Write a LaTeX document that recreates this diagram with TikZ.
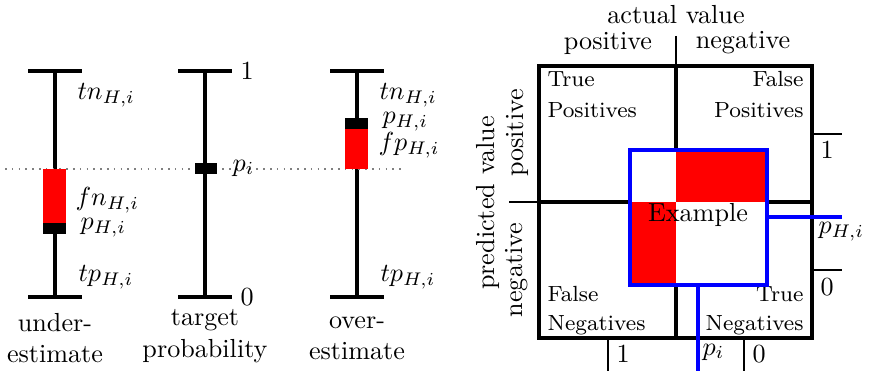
\documentclass[tikz,border=0pt]{standalone}
\begin{document}
\begin{tikzpicture}[x=0.3826pt,y=-0.3826pt,
  bar/.style={line width=1.2pt},
  thin/.style={line width=0.6pt},
  lbl/.style={anchor=west,inner sep=0pt},
  cell/.style={inner sep=0pt,font=\fontsize{8.4}{10}\selectfont},
  blue line/.style={draw=blue,line width=1.6pt}]
\useasboundingbox (0,0) rectangle (869,371);
% ---------- error bars ----------
\foreach \n/\x in {1/55,2/205,3/357}{
  \coordinate (t\n) at (\x,71);
  \coordinate (b\n) at (\x,297);
  \draw[bar] (t\n) -- (b\n);
  \draw[bar] ([xshift=-27*0.3826pt]t\n) -- ([xshift=27*0.3826pt]t\n);
  \draw[bar] ([xshift=-27*0.3826pt]b\n) -- ([xshift=27*0.3826pt]b\n);
}
\draw[dotted,gray,thin] (5,169) -- (403,169);
% bar 1
\fill[red] (43,169) rectangle (66,223);
\fill[black] (43,223) rectangle (66,234);
% bar 2
\fill[black] (195,163) rectangle (217,174);
% bar 3
\fill[red] (345,124) rectangle (368,169);
\fill[black] (345,118) rectangle (368,129);
% labels
\node[lbl] (l1a) at (77,95) {$tn_{H,i}$};
\node[lbl] (l1b) at (75,200) {$fn_{H,i}$};
\node[lbl] (l1c) at (80,228) {$p_{H,i}$};
\node[lbl] (l1d) at (78,277) {$tp_{H,i}$};
\node[lbl] (l2a) at (240,71) {$1$};
\node[lbl] (l2b) at (232,168) {$p_i$};
\node[lbl] (l2c) at (240,297) {$0$};
\node[lbl] (l3a) at (379,95) {$tn_{H,i}$};
\node[lbl] (l3b) at (382,122) {$p_{H,i}$};
\node[lbl] (l3c) at (378,145) {$fp_{H,i}$};
\node[lbl] (l3d) at (380,277) {$tp_{H,i}$};
\node[align=center,inner sep=0pt] (c1) at (55,338) {under-\\estimate};
\node[align=center,inner sep=0pt] (c2) at (205,336) {target\\probability};
\node[align=center,inner sep=0pt] (c3) at (357,338) {over-\\estimate};
% ---------- confusion matrix ----------
\draw[bar] (539,66) rectangle (812,338);
\draw[bar] (676,66) -- (676,338);
\draw[bar] (539,202) -- (812,202);
\draw[thin] (676,36) -- (676,66);
\draw[thin] (509,202) -- (539,202);
\node (av) at (676,15) {actual value};
\node (ap) at (608,43) {positive};
\node (an) at (743,43) {negative};
\node[rotate=90] (pv) at (488,203) {predicted value};
\node[rotate=90] (pp) at (517,133) {positive};
\node[rotate=90] (pn) at (517,270) {negative};
\node[cell,anchor=west] (tp1) at (547,79) {True};
\node[cell,anchor=west] (tp2) at (547,110) {Positives};
\node[cell,anchor=east] (fp1) at (804,79) {False};
\node[cell,anchor=east] (fp2) at (804,110) {Positives};
\node[cell,anchor=west] (fn1) at (547,294) {False};
\node[cell,anchor=west] (fn2) at (547,325) {Negatives};
\node[cell,anchor=east] (tn1) at (804,294) {True};
\node[cell,anchor=east] (tn2) at (804,325) {Negatives};
% example square
\fill[white] (630,150) rectangle (767,285);
\fill[red] (676,150) rectangle (767,202);
\fill[red] (630,202) rectangle (676,285);
\draw[blue line] (630,150) rectangle (767,285);
\node (ex) at (698,215) {Example};
\coordinate (exr) at (767,217);
\coordinate (exb) at (698,285);
\coordinate (er) at (842,217);
\coordinate (eb) at (698,371);
\draw[blue line] (exr) -- (er);
\draw[blue line] (exb) -- (eb);
% scales
\draw[thin,line width=0.8pt] (812,134) -- (842,134);
\draw[thin,line width=0.8pt] (812,270) -- (842,270);
\node[lbl] (s1) at (820,150) {$1$};
\node[lbl] (s0) at (820,287) {$0$};
\node[lbl] (sp) at (818,232) {$p_{H,i}$};
\draw[thin,line width=0.8pt] (608,338) -- (608,371);
\draw[thin,line width=0.8pt] (744,338) -- (744,371);
\node[lbl] (u1) at (616,354) {$1$};
\node[lbl] (u0) at (752,354) {$0$};
\node[lbl] (up) at (702,352) {$p_i$};
\end{tikzpicture}
\end{document}
